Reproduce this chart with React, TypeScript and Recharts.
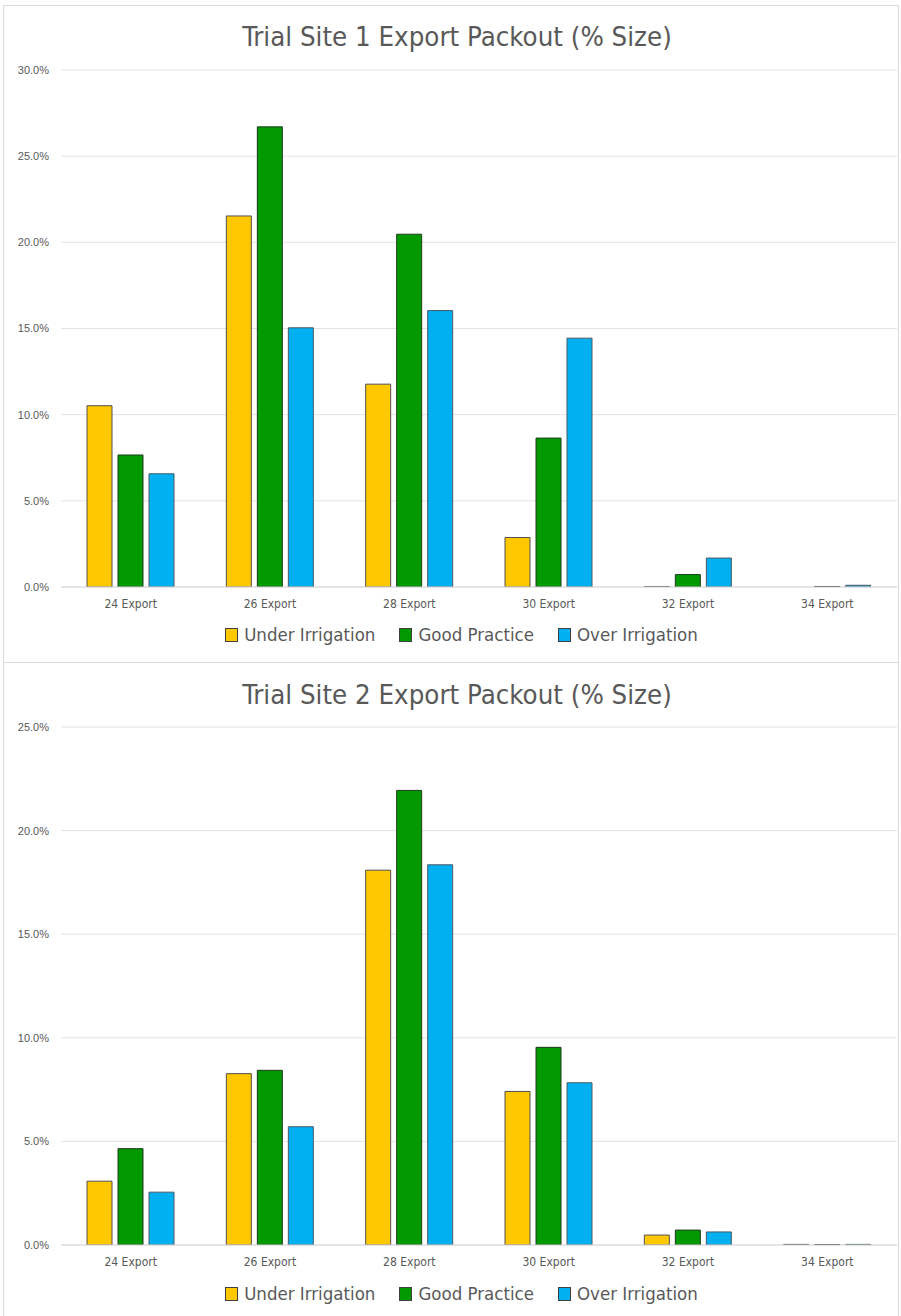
import React from 'react';
import { BarChart, Bar, XAxis, YAxis, CartesianGrid, Legend } from 'recharts';

const categories = ['24 Export', '26 Export', '28 Export', '30 Export', '32 Export', '34 Export'];
const seriesNames = ['Under Irrigation', 'Good Practice', 'Over Irrigation'];
const seriesColors = ['#FFC800', '#009900', '#00B0F0'];

const site1Under = [10.52, 21.53, 11.77, 2.87, 0.03, 0];
const site1Good = [7.66, 26.7, 20.47, 8.64, 0.72, 0.03];
const site1Over = [6.57, 15.04, 16.04, 14.44, 1.68, 0.1];

const site2Under = [3.08, 8.27, 18.09, 7.41, 0.48, 0.03];
const site2Good = [4.65, 8.43, 21.94, 9.54, 0.72, 0.02];
const site2Over = [2.55, 5.71, 18.35, 7.83, 0.63, 0.03];

const site1Ticks = [0, 5, 10, 15, 20, 25, 30];
const site2Ticks = [0, 5, 10, 15, 20, 25];

const title1 = 'Trial Site 1 Export Packout (% Size)';
const title2 = 'Trial Site 2 Export Packout (% Size)';

const NARROW = '"Liberation Sans Narrow", "DejaVu Sans Condensed", "Roboto Condensed", "Liberation Sans", sans-serif';
const TEXT = '#595959';

function build(u: number[], g: number[], o: number[]) {
  return categories.map((c, i) => ({ name: c, under: u[i], good: g[i], over: o[i] }));
}

const LegendContent = (props: any) => {
  const payload = [...(props.payload || [])].sort(
    (a: any, b: any) => seriesNames.indexOf(a.value) - seriesNames.indexOf(b.value)
  );
  return (
    <div style={{ display: 'flex', justifyContent: 'center', alignItems: 'center', gap: 24, fontFamily: NARROW, fontSize: 18.5, color: TEXT, paddingLeft: 22 }}>
      {payload.map((p: any) => (
        <div key={p.value} style={{ display: 'flex', alignItems: 'center', gap: 6 }}>
          <span style={{ display: 'inline-block', width: 11, height: 12, background: p.color, border: '1px solid #404040' }} />
          <span>{p.value}</span>
        </div>
      ))}
    </div>
  );
};

function Panel(props: { title: string; data: any[]; ticks: number[]; max: number; height: number; top: number; plotTop: number; plotBottom: number; titleTop: number; legendTop: number }) {
  const { title, data, ticks, max, height, top, plotTop, plotBottom, titleTop, legendTop } = props;
  const xAxisHeight = 30;
  return (
    <div style={{ position: 'absolute', left: 0, top, width: 901, height }}>
      <div style={{ position: 'absolute', left: 0, width: 914, top: titleTop, textAlign: 'center', fontFamily: NARROW, fontSize: 27.4, color: TEXT, lineHeight: '34px' }}>{title}</div>
      <BarChart
        width={902}
        height={height}
        data={data}
        margin={{ top: plotTop, right: 5, left: 1, bottom: height - plotBottom - xAxisHeight }}
        barSize={25}
        barGap={6}
      >
        <CartesianGrid vertical={false} stroke="#e3e3e3" strokeWidth={1} />
        <XAxis
          dataKey="name"
          height={xAxisHeight}
          tickLine={false}
          axisLine={{ stroke: '#d9d9d9' }}
          tick={{ fontFamily: NARROW, fontSize: 12, fill: TEXT }}
          tickMargin={6}
          interval={0}
        />
        <YAxis
          width={60}
          domain={[0, max]}
          ticks={ticks}
          allowDataOverflow
          axisLine={false}
          tickLine={false}
          tickMargin={6}
          tick={{ fontFamily: '"Liberation Sans", Arial, sans-serif', fontSize: 11, fill: TEXT }}
          tickFormatter={(v: number) => v.toFixed(1) + '%'}
        />
        <Legend
          content={<LegendContent />}
          wrapperStyle={{ position: 'absolute', top: legendTop, left: 0, width: 901, height: 0, overflow: 'visible' }}
        />
        <Bar dataKey="under" name={seriesNames[0]} fill={seriesColors[0]} stroke="#505050" strokeWidth={1} isAnimationActive={false} />
        <Bar dataKey="good" name={seriesNames[1]} fill={seriesColors[1]} stroke="#1e3a1e" strokeWidth={1} isAnimationActive={false} />
        <Bar dataKey="over" name={seriesNames[2]} fill={seriesColors[2]} stroke="#4a5a66" strokeWidth={1} isAnimationActive={false} />
      </BarChart>
    </div>
  );
}

export default function App() {
  return (
    <div style={{ position: 'absolute', left: 0, top: 0, width: 901, height: 1316, background: '#fff', overflow: 'hidden' }}>
      <div style={{ position: 'absolute', left: 3, top: 5, width: 894, height: 656, border: '1px solid #d9d9d9' }} />
      <div style={{ position: 'absolute', left: 3, top: 662, width: 894, height: 660, border: '1px solid #d9d9d9' }} />
      <Panel title={title1} data={build(site1Under, site1Good, site1Over)} ticks={site1Ticks} max={30} height={662} top={0} plotTop={70} plotBottom={587} titleTop={20} legendTop={624} />
      <Panel title={title2} data={build(site2Under, site2Good, site2Over)} ticks={site2Ticks} max={25} height={654} top={662} plotTop={65} plotBottom={583} titleTop={16} legendTop={621} />
    </div>
  );
}
